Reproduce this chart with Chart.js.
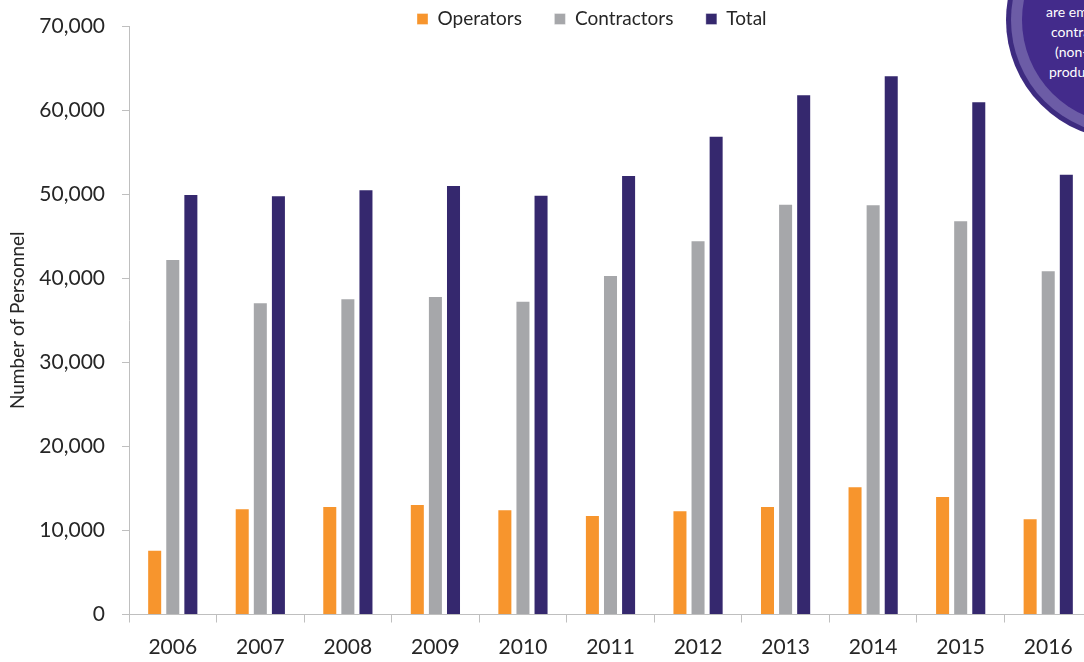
<!DOCTYPE html>
<html>
<head>
<meta charset="utf-8">
<script src="https://cdn.jsdelivr.net/npm/chart.js@4.4.1/dist/chart.umd.min.js"></script>
<style>
  html, body { margin: 0; padding: 0; background: #fff; }
  body { width: 1084px; height: 662px; overflow: hidden; position: relative; font-family: Lato, sans-serif; }
  #wrap { position: absolute; left: 0; top: 0; width: 1100px; height: 662px; }
  .badge { position: absolute; left: 1006px; top: -100px; width: 240px; height: 240px; border-radius: 50%; background: #3d2b80; }
  .badge .ring { position: absolute; left: 5px; top: 5px; right: 5px; bottom: 5px; border-radius: 50%; background: #6c5ca6; }
  .badge .core { position: absolute; left: 16px; top: 16px; right: 16px; bottom: 16px; border-radius: 50%; background: #432b8b; }
  .note { position: absolute; color: #fff; font-size: 14px; white-space: nowrap; line-height: 20px; }
</style>
</head>
<body>
<div id="wrap"><canvas id="myChart"></canvas></div>
<div class="badge"><div class="ring"></div><div class="core"></div></div>
<div class="note" style="left:1046px; top:2px;">are employed by</div>
<div class="note" style="left:1051px; top:22px;">contractors</div>
<div class="note" style="left:1055px; top:42px;">(non-</div>
<div class="note" style="left:1049px; top:62px;">production</div>
<script>
const anios = ['2006', '2007', '2008', '2009', '2010', '2011', '2012', '2013', '2014', '2015', '2016'];
const operators = [7700, 12630, 12910, 13140, 12510, 11840, 12390, 12910, 15250, 14100, 11440];
const contractors = [42290, 37140, 37610, 37890, 37330, 40380, 44510, 48870, 48790, 46890, 40940];
const total = [50020, 49860, 50580, 51090, 49930, 52280, 56950, 61880, 64140, 61040, 52430];
const yTicks = [0, 10000, 20000, 30000, 40000, 50000, 60000, 70000];

const colores = ['#f7952d', '#a6a7aa', '#35286e'];
const txt = '#262626';
const eje = '#bfbfbf';
const legendSize = 19;

// legend takes no layout room; it sits in the top strip like the original
const legendPlace = {
  id: 'legendPlace',
  afterInit(chart) {
    const lg = chart.legend;
    const fit = lg.fit.bind(lg);
    lg.fit = function(){ fit(); this._realHeight = this.height; this.height = 0; };
  },
  afterLayout(chart) {
    const lg = chart.legend;
    const pad = lg.options.labels.padding;
    lg.left = 417 - pad;
    lg.right = lg.left + 640;
    lg.top = 19 - legendSize / 2 - pad;
    lg.bottom = lg.top + lg._realHeight;
  }
};

function initChart(){
  const ctx = document.getElementById('myChart').getContext('2d');
  const serie = (label, data, i) => ({
    label: label,
    data: data,
    backgroundColor: colores[i],
    borderColor: 'rgba(255,255,255,0.35)',
    borderWidth: 1,
    categoryPercentage: 0.62,
    barPercentage: 0.83
  });

  new Chart(ctx, {
    type: 'bar',
    data: {
      labels: anios,
      datasets: [
        serie('Operators', operators, 0),
        serie('Contractors', contractors, 1),
        serie('Total', total, 2)
      ]
    },
    options: {
      responsive: true,
      maintainAspectRatio: false,
      animation: false,
      layout: { padding: { top: 26, right: 8, left: 0, bottom: 0 } },
      plugins: {
        legend: {
          position: 'top',
          align: 'start',
          labels: {
            boxWidth: 11,
            boxHeight: 11,
            padding: 32.5,
            color: txt,
            font: { family: 'Lato', size: legendSize }
          }
        },
        tooltip: { enabled: false }
      },
      scales: {
        x: {
          grid: { display: true, drawOnChartArea: false, drawTicks: true, tickLength: 8, color: eje, offset: true },
          border: { display: true, color: eje },
          ticks: { color: txt, font: { family: 'Lato', size: 21 }, padding: 12 },
          afterFit(scale){ scale.height = 47.5; }
        },
        y: {
          min: 0,
          max: 70000,
          afterBuildTicks(scale){ scale.ticks = yTicks.map(v => ({ value: v })); },
          grid: { display: true, drawOnChartArea: false, drawTicks: true, tickLength: 7, color: eje },
          border: { display: true, color: eje },
          ticks: {
            color: txt,
            font: { family: 'Lato', size: 21, lineHeight: 0.8 },
            padding: 17,
            callback: v => v.toLocaleString('en-US')
          },
          title: {
            display: true,
            text: 'Number of Personnel',
            color: txt,
            font: { family: 'Lato', size: 19 },
            padding: { top: 6, bottom: 0 }
          },
          afterFit(scale){ scale.width = 129; }
        }
      }
    },
    plugins: [legendPlace]
  });
}

window.onload = initChart;
</script>
</body>
</html>
